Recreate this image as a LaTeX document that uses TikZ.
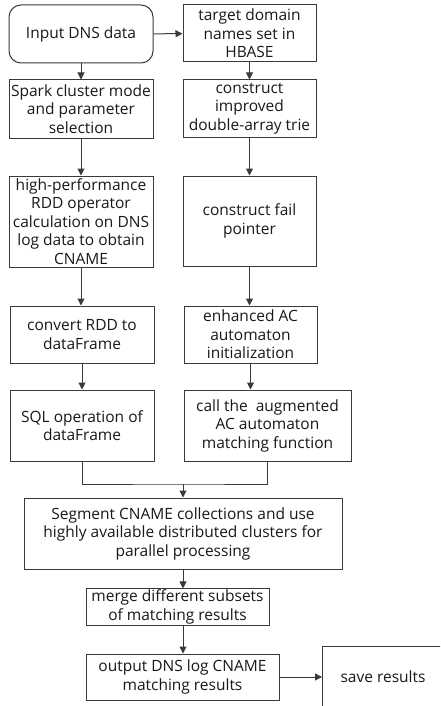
\documentclass[tikz,border=0pt]{standalone}
\usepackage{fontspec}
\setmainfont{Open Sans}
\usetikzlibrary{arrows.meta,calc}
\definecolor{ln}{HTML}{3A3A3A}
\tikzset{
  box/.style={draw=ln, line width=1pt, align=center, inner sep=1pt, font=\fontsize{15.5}{18.5}\selectfont, text=black!90},
  conn/.style={draw=ln, line width=1pt, -{Triangle[length=7pt,width=7pt]}},
  plain/.style={draw=ln, line width=1pt}
}
\begin{document}
\begin{tikzpicture}[x=1pt,y=-1pt]
\path[use as bounding box, clip] (0,0) rectangle (440,706);
\fill[white] (0,0) rectangle (440,706);
\node[box, rounded corners=12pt, minimum width=144pt, minimum height=58pt] (in) at (81,34) {Input DNS data};
\node[box, minimum width=133pt, minimum height=57pt] (tgt) at (249.5,33.5) {target domain\\names set in\\HBASE};
\node[box, minimum width=144pt, minimum height=58pt] (spark) at (81,109) {Spark cluster mode\\and parameter\\selection};
\node[box, minimum width=133pt, minimum height=57pt] (trie) at (249.5,108.5) {construct\\improved\\double-array trie};
\node[box, minimum width=144pt, minimum height=91pt] (hp) at (81,221.5) {high-performance\\RDD operator\\calculation on DNS\\log data to obtain\\CNAME};
\node[box, minimum width=133pt, minimum height=90pt] (fail) at (249.5,221) {construct fail\\pointer};
\node[box, minimum width=144pt, minimum height=57pt] (rdd) at (82,334.5) {convert RDD to\\dataFrame};
\node[box, minimum width=133pt, minimum height=57pt] (init) at (250.5,334.5) {enhanced AC\\automaton\\initialization};
\node[box, minimum width=144pt, minimum height=71pt] (sql) at (82,425.5) {SQL operation of\\dataFrame};
\node[box, minimum width=167pt, minimum height=71pt] (call) at (267.5,425.5) {call the~ augmented\\AC automaton\\matching function};
\node[box, minimum width=318pt, minimum height=71pt] (seg) at (183,533.5) {Segment CNAME collections and use\\highly available distributed clusters for\\parallel processing};
\node[box, minimum width=183pt, minimum height=32pt] (merge) at (177.5,607) {merge different subsets\\of matching results};
\node[box, minimum width=193pt, minimum height=46pt] (out) at (182.5,677) {output DNS log CNAME\\matching results};
\node[box, minimum width=124pt, minimum height=64pt, anchor=north west] (save) at (322,646) {};
\node[font=\fontsize{15.5}{18.5}\selectfont, text=black!90] (savet) at (383,677) {save results};
\coordinate (j) at (183,484);
\draw[conn] (in) -- (tgt);
\draw[conn] (in.south) -- (spark.north);
\draw[conn] (spark.south) -- (hp.north);
\draw[conn] (hp.south) -- (hp.south |- rdd.north);
\draw[conn] (rdd.south) -- (rdd.south |- sql.north);
\draw[conn] (tgt.south) -- (trie.north);
\draw[conn] (trie.south) -- (fail.north);
\draw[conn] (fail.south) -- (fail.south |- init.north);
\draw[conn] (init.south) -- (init.south |- call.north);
\draw[plain] (sql.south) |- (j) -| (call.south);
\draw[conn] (j) -- (seg.north);
\draw[conn] (seg.south) -- (seg.south |- merge.north);
\draw[conn] (merge.south -| seg.south) -- (seg.south |- out.north);
\draw[conn] (out.east) -- (out.east -| save.west);
\end{tikzpicture}
\end{document}
